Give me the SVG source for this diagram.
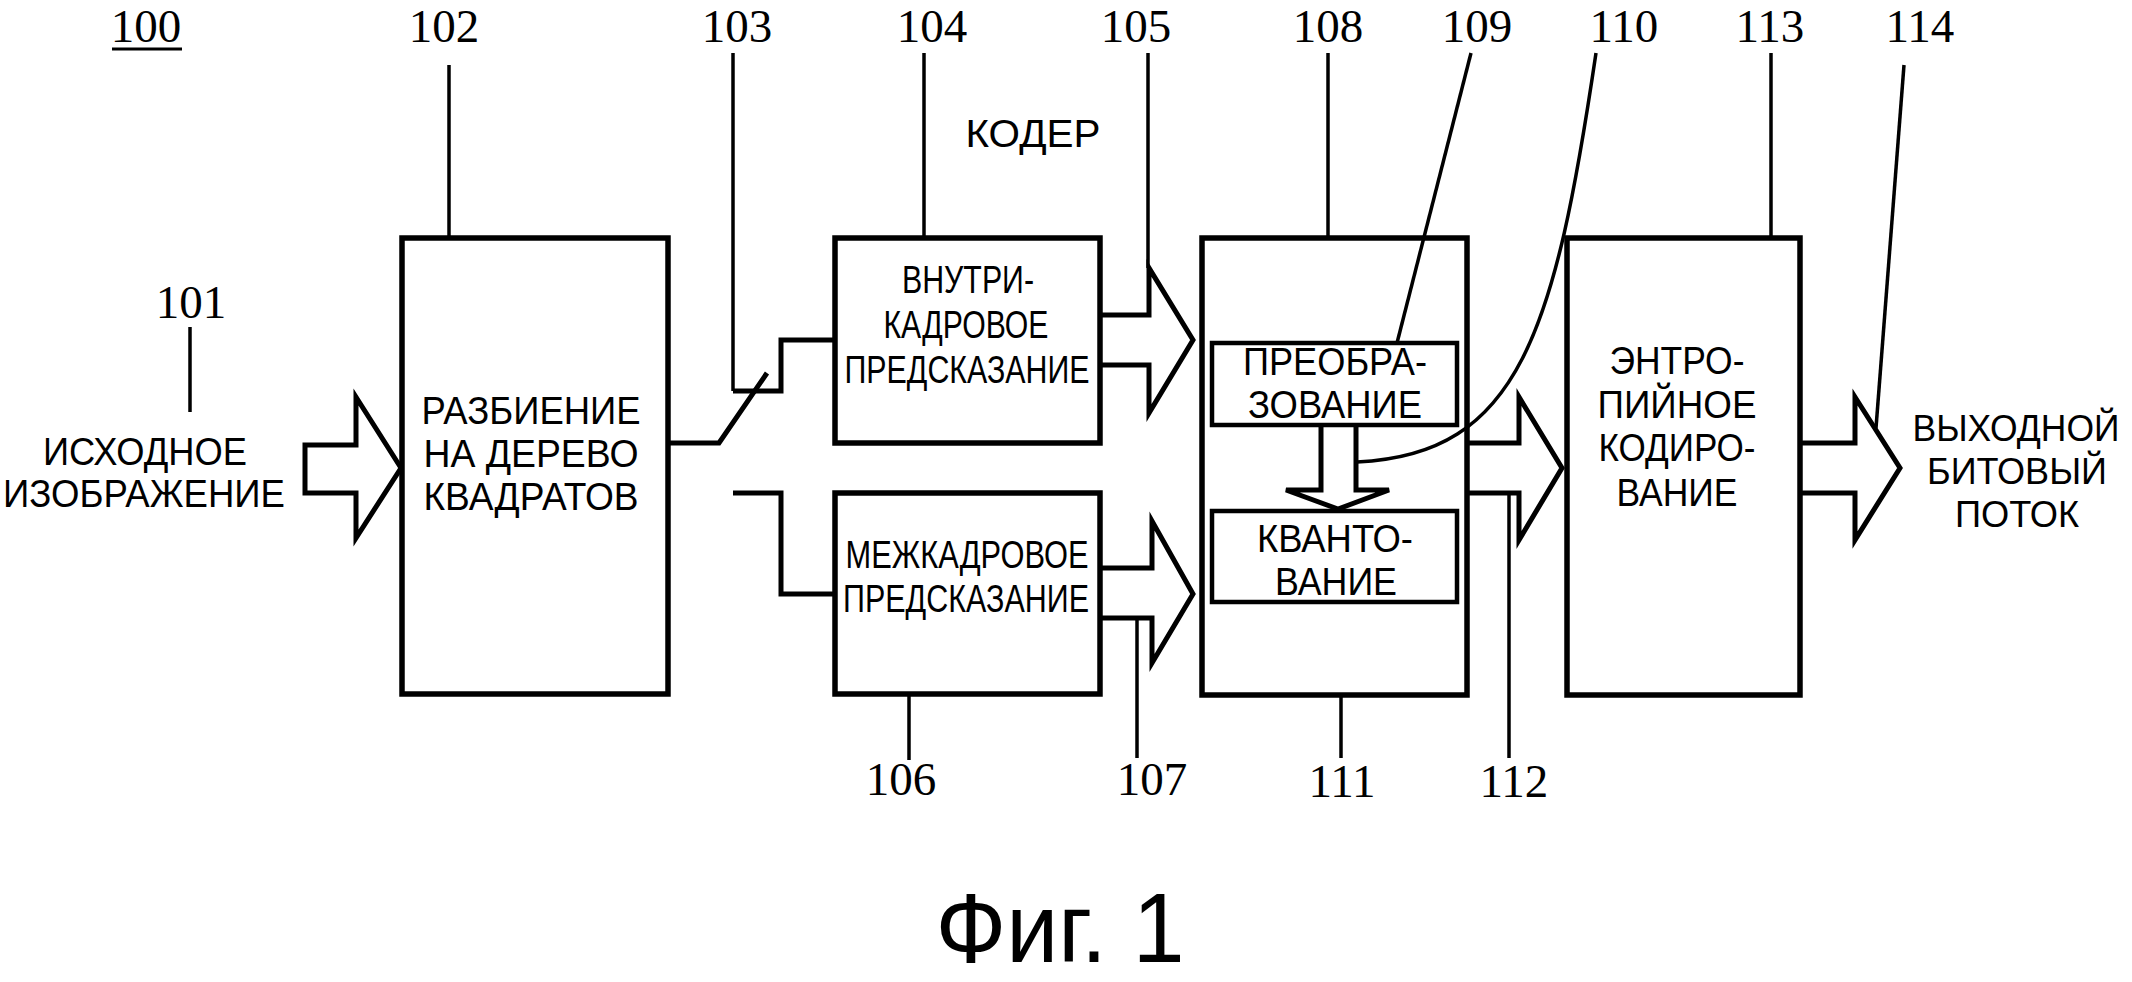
<svg xmlns="http://www.w3.org/2000/svg" width="2132" height="982" viewBox="0 0 2132 982">
<style>
.num{font-family:"Liberation Serif","Times New Roman",serif;font-size:47px;text-anchor:middle;fill:#000}
.lbl{font-family:"Liberation Sans",Arial,sans-serif;font-size:39px;text-anchor:middle;fill:#000}
.out{font-size:37px}
.box{fill:none;stroke:#000;stroke-width:5.5}
.ibox{fill:none;stroke:#000;stroke-width:4.5}
.arr{fill:none;stroke:#000;stroke-width:5;stroke-linejoin:miter}
.lead{fill:none;stroke:#000;stroke-width:3.5}
.wire{fill:none;stroke:#000;stroke-width:5}
</style>
<rect width="2132" height="982" fill="#fff"/>

<g id="label-100">
<text class="num" x="146" y="42">100</text>
<line x1="112" y1="49" x2="182" y2="49" stroke="#000" stroke-width="3"/>
</g>

<g id="input">
<text class="num" x="191" y="318">101</text>
<text class="lbl" x="145" y="465" textLength="204" lengthAdjust="spacingAndGlyphs">ИСХОДНОЕ</text>
<text class="lbl" x="144" y="507" textLength="282" lengthAdjust="spacingAndGlyphs">ИЗОБРАЖЕНИЕ</text>
</g>

<g id="node-102">
<rect class="box" x="402" y="238" width="266" height="456"/>
<text class="num" x="444" y="42">102</text>
<text class="lbl" x="531" y="424" textLength="219" lengthAdjust="spacingAndGlyphs">РАЗБИЕНИЕ</text>
<text class="lbl" x="531" y="467" textLength="215" lengthAdjust="spacingAndGlyphs">НА ДЕРЕВО</text>
<text class="lbl" x="531" y="510" textLength="215" lengthAdjust="spacingAndGlyphs">КВАДРАТОВ</text>
</g>

<g id="label-103">
<text class="num" x="737" y="42">103</text>
</g>

<g id="node-104">
<rect class="box" x="835" y="238" width="265" height="205"/>
<text class="num" x="932" y="42">104</text>
<text class="lbl" x="968" y="293" textLength="132" lengthAdjust="spacingAndGlyphs">ВНУТРИ-</text>
<text class="lbl" x="966" y="338" textLength="165" lengthAdjust="spacingAndGlyphs">КАДРОВОЕ</text>
<text class="lbl" x="967" y="383" textLength="245" lengthAdjust="spacingAndGlyphs">ПРЕДСКАЗАНИЕ</text>
</g>

<g id="label-coder">
<text class="lbl" x="1033" y="147" textLength="135" lengthAdjust="spacingAndGlyphs">КОДЕР</text>
</g>

<g id="node-106">
<rect class="box" x="835" y="493" width="265" height="201"/>
<text class="num" x="901" y="795">106</text>
<text class="lbl" x="967" y="568" textLength="243" lengthAdjust="spacingAndGlyphs">МЕЖКАДРОВОЕ</text>
<text class="lbl" x="966" y="612" textLength="246" lengthAdjust="spacingAndGlyphs">ПРЕДСКАЗАНИЕ</text>
</g>

<g id="labels-105-107">
<text class="num" x="1136" y="42">105</text>
<text class="num" x="1152" y="795">107</text>
</g>

<g id="node-108">
<rect class="box" x="1202" y="238" width="265" height="457"/>
<text class="num" x="1328" y="42">108</text>
<text class="num" x="1342" y="797">111</text>
</g>

<g id="node-109">
<rect class="ibox" x="1212" y="343" width="245" height="82"/>
<text class="num" x="1477" y="42">109</text>
<text class="lbl" x="1335" y="375" textLength="184" lengthAdjust="spacingAndGlyphs">ПРЕОБРА-</text>
<text class="lbl" x="1335" y="418" textLength="174" lengthAdjust="spacingAndGlyphs">ЗОВАНИЕ</text>
</g>

<g id="node-quant">
<rect class="ibox" x="1212" y="511" width="245" height="91"/>
<text class="lbl" x="1335" y="552" textLength="156" lengthAdjust="spacingAndGlyphs">КВАНТО-</text>
<text class="lbl" x="1336" y="595" textLength="122" lengthAdjust="spacingAndGlyphs">ВАНИЕ</text>
</g>

<g id="labels-110-112">
<text class="num" x="1624" y="42">110</text>
<text class="num" x="1514" y="797">112</text>
</g>

<g id="node-113">
<rect class="box" x="1567" y="238" width="233" height="457"/>
<text class="num" x="1770" y="42">113</text>
<text class="lbl" x="1677" y="374" textLength="135" lengthAdjust="spacingAndGlyphs">ЭНТРО-</text>
<text class="lbl" x="1677" y="418" textLength="159" lengthAdjust="spacingAndGlyphs">ПИЙНОЕ</text>
<text class="lbl" x="1677" y="461" textLength="157" lengthAdjust="spacingAndGlyphs">КОДИРО-</text>
<text class="lbl" x="1677" y="506" textLength="121" lengthAdjust="spacingAndGlyphs">ВАНИЕ</text>
</g>

<g id="output">
<text class="num" x="1920" y="42">114</text>
<text class="lbl out" x="2016" y="441" textLength="207" lengthAdjust="spacingAndGlyphs">ВЫХОДНОЙ</text>
<text class="lbl out" x="2017" y="484" textLength="180" lengthAdjust="spacingAndGlyphs">БИТОВЫЙ</text>
<text class="lbl out" x="2017" y="527" textLength="124" lengthAdjust="spacingAndGlyphs">ПОТОК</text>
</g>

<g id="connectors">
<line class="lead" x1="190" y1="327" x2="190" y2="412"/>
<line class="lead" x1="449" y1="65" x2="449" y2="238"/>
<line class="lead" x1="733" y1="53" x2="733" y2="391"/>
<line class="lead" x1="924" y1="53" x2="924" y2="238"/>
<line class="lead" x1="1148" y1="53" x2="1148" y2="268"/>
<line class="lead" x1="1328" y1="53" x2="1328" y2="238"/>
<line class="lead" x1="1471" y1="53" x2="1397" y2="343"/>
<path class="lead" d="M1596,53 C1555,330 1520,455 1357,462"/>
<line class="lead" x1="1771" y1="53" x2="1771" y2="238"/>
<line class="lead" x1="1904" y1="65" x2="1876" y2="428"/>
<line class="lead" x1="909" y1="694" x2="909" y2="760"/>
<line class="lead" x1="1137" y1="618" x2="1137" y2="758"/>
<line class="lead" x1="1341" y1="695" x2="1341" y2="758"/>
<line class="lead" x1="1509" y1="493" x2="1509" y2="758"/>

<polygon class="arr" points="305,445 356,445 356,397 401,468 356,538 356,493 305,493"/>

<polyline class="wire" points="668,443 719,443 767,373"/>
<polyline class="wire" points="733,391 781,391 781,340 835,340"/>
<polyline class="wire" points="733,493 781,493 781,594 835,594"/>

<polyline class="arr" points="1100,315 1149,315 1149,268 1193,340 1149,413 1149,365 1100,365"/>
<polyline class="arr" points="1100,568 1152,568 1152,521 1193,594 1152,663 1152,618 1100,618"/>
<polyline class="arr" points="1321,425 1321,490 1286,490 1338,509 1389,490 1356,490 1356,425"/>
<polyline class="arr" points="1467,443 1519,443 1519,397 1562,468 1519,540 1519,493 1467,493"/>
<polyline class="arr" points="1800,443 1855,443 1855,397 1900,468 1855,540 1855,493 1800,493"/>
</g>

<g id="caption">
<text class="lbl" x="1060" y="962" style="font-size:98px" textLength="249" lengthAdjust="spacingAndGlyphs">Фиг. 1</text>
</g>
</svg>
